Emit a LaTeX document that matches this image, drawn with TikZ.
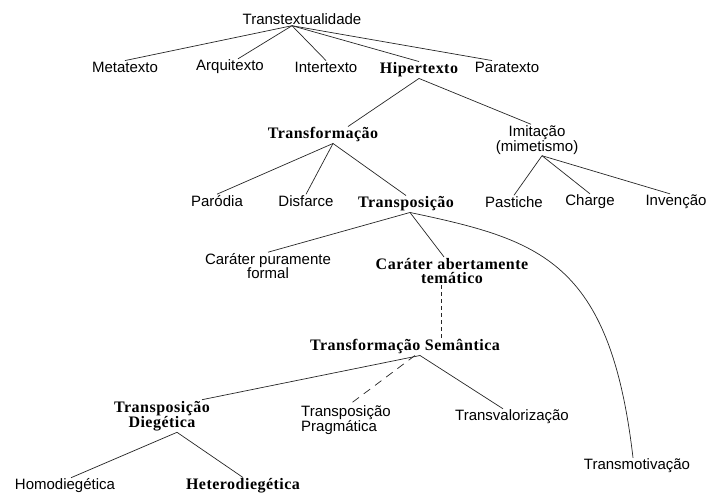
\documentclass[tikz,border=0pt]{standalone}
\usepackage{fontspec}
\setmainfont{Liberation Sans}
\newfontfamily\bsf[LetterSpace=3]{Liberation Serif}
\begin{document}
\begin{tikzpicture}[x=1pt,y=-1pt,
  txt/.style={font=\fontsize{15}{14}\selectfont,inner sep=1pt,align=center},
  bld/.style={font=\bsf\bfseries\fontsize{16}{14.5}\selectfont,inner sep=1pt,align=center},
  edge/.style={line width=0.7pt,black!85}]
\useasboundingbox (0,0) rectangle (711,495);
% top level
\node[txt] (trans) at (302,19) {Transtextualidade};
\node[txt] (meta) at (125,67) {Metatexto};
\node[txt] (arqui) at (230,67) {Arquitexto};
\node[txt] (inter) at (326,67) {Intertexto};
\node[bld] (hiper) at (419,70) {Hipertexto};
\node[txt] (para) at (507,67) {Paratexto};
% hipertexto
\node[bld] (transf) at (323,135) {Transformação};
\node[txt] (imit) at (537,140) {Imitação\\(mimetismo)};
\node[txt] (parod) at (217,201) {Paródia};
\node[txt] (disf) at (306,201) {Disfarce};
\node[bld] (transp) at (406,204) {Transposição};
\node[txt] (past) at (514,202) {Pastiche};
\node[txt] (charge) at (590,202) {Charge};
\node[txt] (inven) at (676,202) {Invenção};
% transposicao
\node[txt] (carpur) at (268,266) {Caráter puramente\\formal};
\node[bld] (carab) at (452,271) {Caráter abertamente\\temático};
\node[bld] (transem) at (405,347) {Transformação Semântica};
\node[txt] (transmot) at (637,466) {Transmotivação};
% semantica
\node[bld] (transdieg) at (162,416) {Transposição\\Diegética};
\node[txt,anchor=west,align=left] (transprag) at (300,420) {Transposição\\Pragmática};
\node[txt] (transval) at (512,417) {Transvalorização};
\node[txt] (homo) at (65,486) {Homodiegética};
\node[bld] (hetero) at (243,486) {Heterodiegética};

\draw[edge] ([xshift=-10pt]trans.south) -- (meta.north);
\draw[edge] ([xshift=-10pt]trans.south) -- ([xshift=8pt]arqui.north);
\draw[edge] ([xshift=-10pt]trans.south) -- (inter.north);
\draw[edge] ([xshift=-10pt]trans.south) -- (hiper.north);
\draw[edge] ([xshift=-10pt]trans.south) -- ([xshift=-15pt]para.north);
\draw[edge] (hiper.south) -- ([xshift=25pt]transf.north);
\draw[edge] (hiper.south) -- ([xshift=-6pt]imit.north);
\draw[edge] ([xshift=10pt]transf.south) -- (parod.north);
\draw[edge] ([xshift=10pt]transf.south) -- (disf.north);
\draw[edge] ([xshift=10pt]transf.south) -- (transp.north);
\draw[edge] ([xshift=5pt]imit.south) -- (past.north);
\draw[edge] ([xshift=5pt]imit.south) -- (charge.north);
\draw[edge] ([xshift=5pt]imit.south) -- ([xshift=-6pt]inven.north);
\draw[edge] ([xshift=4pt]transp.south) -- (carpur.north);
\draw[edge] ([xshift=4pt]transp.south) -- ([xshift=-8pt]carab.north);
\draw[edge] ([xshift=4pt]transp.south) .. controls (540,240) and (610,260) .. ([xshift=-4pt]transmot.north);
\draw[edge,dash pattern=on 4pt off 3pt] ([xshift=-11pt]carab.south) -- ([xshift=-11pt]carab.south |- transem.north);
\draw[edge] ([xshift=15pt]transem.south) -- ([xshift=40pt]transdieg.north);
\draw[edge,dash pattern=on 8pt off 6pt] ([xshift=10pt]transem.south) -- ([xshift=4pt]transprag.north);
\draw[edge] ([xshift=15pt]transem.south) -- ([xshift=-9pt]transval.north);
\draw[edge] ([xshift=15pt]transdieg.south) -- ([xshift=6pt]homo.north);
\draw[edge] ([xshift=15pt]transdieg.south) -- (hetero.north);
\end{tikzpicture}
\end{document}
